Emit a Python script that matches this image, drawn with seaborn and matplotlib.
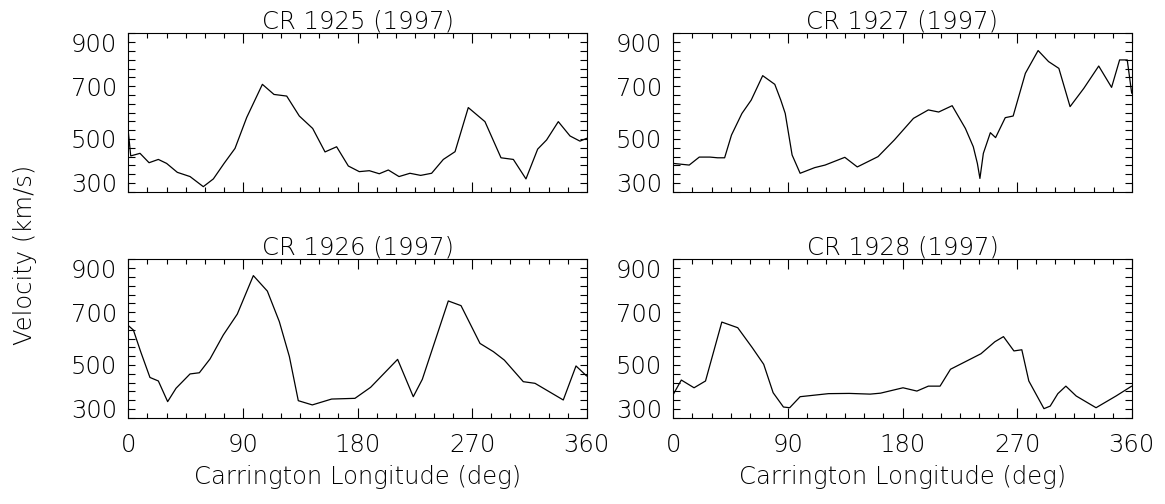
import numpy as np
import pandas as pd
import matplotlib
matplotlib.use("Agg")
import matplotlib.pyplot as plt
from matplotlib.ticker import MultipleLocator, FixedLocator
import seaborn as sns

# ---------------- data ----------------
cr1925_lon = [0, 1.9, 9.2, 16.3, 23.6, 30.1, 38.5, 48.5, 58.9, 66.8, 75.2, 83.8, 93.0,
              105.3, 114.4, 124.4, 134.3, 144.8, 154.5, 163.6, 172.8, 181.4, 189.3,
              197.1, 204.2, 212.6, 221.2, 229.6, 238.2, 247.4, 256.6, 267.0, 280.1,
              292.7, 302.4, 312.3, 321.5, 328.5, 337.7, 346.9, 354.7, 360]
cr1925_vel = [518, 415, 426, 386, 400, 383, 345, 327, 284, 317, 383, 447, 579,
              720, 677, 670, 585, 532, 432, 454, 372, 348, 352,
              339, 355, 327, 341, 332, 341, 400, 433, 621, 561,
              407, 400, 317, 444, 483, 561, 500, 478, 490]

cr1926_lon = [0, 4.0, 9.7, 17.0, 23.6, 30.9, 37.5, 48.5, 55.8, 64.2, 74.6, 85.6, 98.2,
              109.2, 118.6, 126.5, 133.5, 144.5, 159.7, 178.0, 190.3, 211.5, 223.8,
              230.9, 251.3, 261.3, 276.2, 286.7, 295.3, 310.2, 319.4, 341.6, 351.6, 360]
cr1926_vel = [655, 636, 544, 434, 419, 331, 388, 449, 454, 513, 615, 704, 868,
              802, 672, 523, 335, 317, 342, 345, 392, 511, 352,
              426, 760, 740, 579, 544, 508, 416, 409, 338, 483, 440]

cr1927_lon = [0, 12.5, 20.4, 28.8, 34.8, 40.3, 45.7, 53.9, 61.2, 70.2, 79.7, 84.4, 87.9,
              93.3, 99.6, 111.0, 119.2, 134.7, 144.5, 160.8, 173.6, 188.6, 200.3,
              208.4, 219.0, 229.4, 235.6, 238.8, 240.8, 243.5, 249.0, 253.1, 260.7,
              266.9, 276.5, 286.5, 294.7, 302.8, 311.6, 322.4, 334.1, 344.2, 350.5,
              356.5, 360]
cr1927_vel = [383, 376, 410, 410, 407, 407, 504, 596, 653, 757, 720, 653, 596,
              419, 341, 365, 376, 409, 368, 412, 483, 575, 611,
              602, 629, 532, 454, 383, 319, 426, 514, 493, 578,
              585, 767, 864, 817, 788, 625, 703, 798, 707, 824,
              824, 682]

cr1928_lon = [0, 6.3, 16.3, 25.3, 38.1, 50.6, 62.0, 71.0, 78.4, 86.5, 91.4, 99.6, 121.9,
              138.2, 154.6, 162.7, 180.4, 191.3, 200.3, 209.5, 217.7, 241.6, 252.5,
              259.3, 267.5, 273.7, 279.2, 291.1, 296.0, 302.0, 308.3, 316.4, 332.0,
              347.7, 360]
cr1928_vel = [362, 423, 390, 419, 670, 646, 561, 490, 369, 308, 305, 352, 365,
              366, 363, 367, 390, 376, 397, 397, 469, 535, 586,
              608, 547, 552, 419, 301, 312, 365, 397, 355, 305,
              355, 397]

titles = ["CR 1925 (1997)", "CR 1927 (1997)", "CR 1926 (1997)", "CR 1928 (1997)"]
x_ticks = [0, 90, 180, 270, 360]
y_tick_pos = [300, 487.5, 712.5, 900]
y_tick_labels = ["300", "500", "700", "900"]

# ---------------- style ----------------
sns.set_theme(style="ticks")
plt.rcParams["font.family"] = ["DejaVu Sans"]
plt.rcParams["font.weight"] = "light"
for k in ["text.color", "axes.labelcolor", "xtick.color", "ytick.color",
          "axes.edgecolor"]:
    plt.rcParams[k] = "black"

FS = 17.5
fig = plt.figure(figsize=(11.65, 5.04), dpi=100)

W, H = 1165.0, 504.0
lefts = [128.3, 673.3]
tops = [33.3, 259.3]
aw, ah = 458.4, 158.4

series = [(cr1925_lon, cr1925_vel), (cr1927_lon, cr1927_vel),
          (cr1926_lon, cr1926_vel), (cr1928_lon, cr1928_vel)]

for i, ((lon, vel), title) in enumerate(zip(series, titles)):
    row, col = divmod(i, 2)
    l = lefts[col]
    t = tops[row]
    ax = fig.add_axes([l / W, 1 - (t + ah) / H, aw / W, ah / H])
    df = pd.DataFrame({"lon": lon, "vel": vel})
    sns.lineplot(data=df, x="lon", y="vel", ax=ax, color="black", linewidth=0.9,
                 sort=False, estimator=None)
    ax.set_xlim(0, 360)
    ax.set_ylim(262.5, 937.5)
    ax.xaxis.set_major_locator(FixedLocator(x_ticks))
    ax.xaxis.set_minor_locator(MultipleLocator(15))
    ax.set_xticklabels([str(v) for v in x_ticks], fontsize=FS, fontweight="light",
                       color="black")
    ax.yaxis.set_major_locator(FixedLocator(y_tick_pos))
    ax.set_yticklabels(y_tick_labels, fontsize=FS, fontweight="light", color="black")
    ax.yaxis.set_minor_locator(FixedLocator(list(np.arange(262.5, 937.6, 37.5))))
    ax.tick_params(which="both", direction="in", top=True, right=True,
                   color="black", width=0.8)
    ax.tick_params(axis="x", which="major", length=7.5, pad=11)
    ax.tick_params(axis="x", which="minor", length=3.6)
    ax.tick_params(axis="y", which="both", length=5, pad=8)
    for s in ax.spines.values():
        s.set_visible(True)
        s.set_color("black")
        s.set_linewidth(0.8)
    ax.set_title(title, fontsize=FS, fontweight="light", pad=1.0, color="black")
    ax.set_ylabel("")
    if row == 1:
        ax.set_xlabel("Carrington Longitude (deg)", fontsize=FS, fontweight="light",
                      labelpad=6, color="black")
    else:
        ax.set_xlabel("")
        ax.tick_params(axis="x", labelbottom=False)

fig.text(25 / W, 1 - 255 / H, "Velocity (km/s)", rotation=90, fontsize=FS,
         fontweight="light", ha="center", va="center", color="black")

fig.savefig("out.png", dpi=100, facecolor="white")
